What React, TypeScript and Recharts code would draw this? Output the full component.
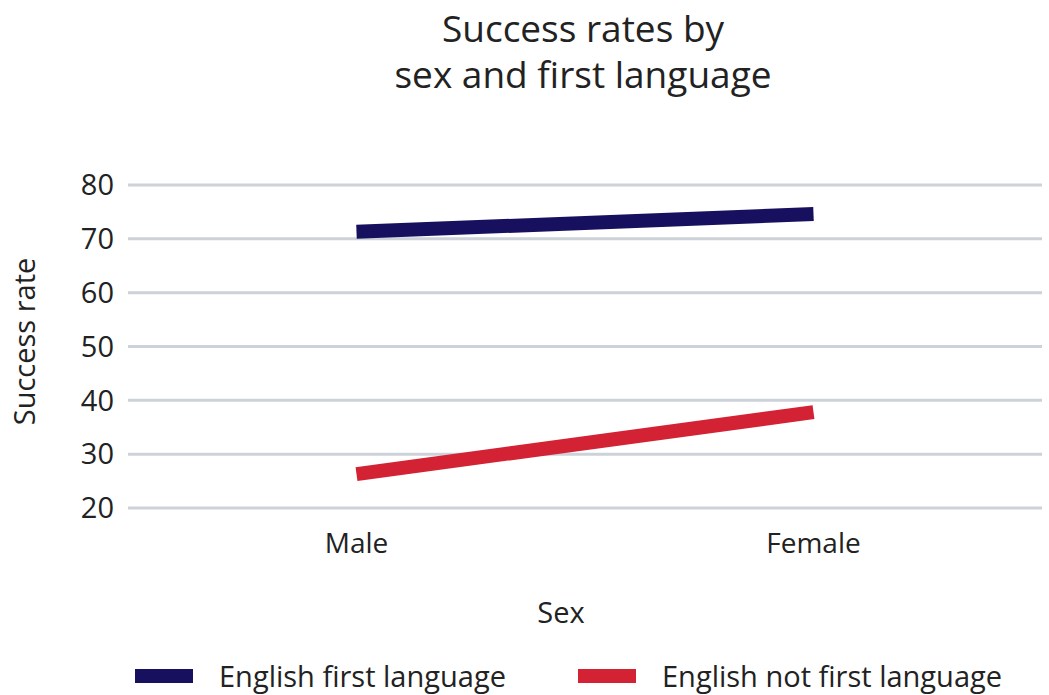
import React from "react";
import { LineChart, Line, XAxis, YAxis, CartesianGrid, Legend, Label } from "recharts";

const categories = ["Male", "Female"];
const englishFirst = [71.3, 74.6];
const englishNotFirst = [26.3, 37.8];
const yTicks = [20, 30, 40, 50, 60, 70, 80];

const titleLines = ["Success rates by", "sex and first language"];
const seriesNames = ["English first language", "English not first language"];
const seriesColors = ["#16105e", "#d32234"];

const data = categories.map((c, i) => ({
  sex: c,
  efl: englishFirst[i],
  enfl: englishNotFirst[i],
}));

const FONT = "'Open Sans', sans-serif";
const TEXT = "#222222";

const LegendContent = () => (
  <div style={{ position: "relative", width: 1049, height: 34, fontFamily: FONT, fontSize: 29, color: TEXT, lineHeight: "34px" }}>
    <div style={{ position: "absolute", left: 135, top: 0, display: "flex", alignItems: "center", height: 34 }}>
      <div style={{ width: 58, height: 14, background: seriesColors[0] }} />
      <span style={{ marginLeft: 26, whiteSpace: "nowrap" }}>{seriesNames[0]}</span>
    </div>
    <div style={{ position: "absolute", left: 578, top: 0, display: "flex", alignItems: "center", height: 34 }}>
      <div style={{ width: 58, height: 14, background: seriesColors[1] }} />
      <span style={{ marginLeft: 26, whiteSpace: "nowrap" }}>{seriesNames[1]}</span>
    </div>
  </div>
);

const titleStyle: React.CSSProperties = {
  position: "absolute",
  left: 0,
  width: 1166,
  textAlign: "center",
  fontFamily: FONT,
  fontSize: 37,
  lineHeight: "37px",
  color: TEXT,
  whiteSpace: "nowrap",
};

export default function App() {
  return (
    <div style={{ position: "absolute", left: 0, top: 0, width: 1049, height: 695, background: "#fff", overflow: "hidden" }}>
      <div style={{ ...titleStyle, top: 9 }}>{titleLines[0]}</div>
      <div style={{ ...titleStyle, top: 55 }}>{titleLines[1]}</div>
      <LineChart
        width={1049}
        height={695}
        data={data}
        margin={{ top: 185, right: 7, bottom: 67, left: 0 }}
      >
        <CartesianGrid vertical={false} stroke="#cdd1d8" strokeWidth={3} />
        <XAxis
          dataKey="sex"
          scale="band"
          axisLine={false}
          tickLine={false}
          tickSize={0}
          tickMargin={25}
          height={120}
          tick={{ fill: TEXT, fontSize: 28, fontFamily: FONT }}
        >
          <Label
            content={(props: any) => {
              const vb = props.viewBox;
              return (
                <text
                  x={561}
                  y={vb.y + 115}
                  textAnchor="middle"
                  fill={TEXT}
                  fontSize={29}
                  fontFamily={FONT}
                >
                  Sex
                </text>
              );
            }}
          />
        </XAxis>
        <YAxis
          domain={[20, 80]}
          ticks={yTicks}
          axisLine={false}
          tickLine={false}
          tickSize={0}
          tickMargin={14}
          width={128}
          tick={{ fill: TEXT, fontSize: 29, fontFamily: FONT }}
        >
          <Label
            content={(props: any) => {
              const vb = props.viewBox;
              const cy = vb.y + vb.height / 2 - 5;
              return (
                <text
                  x={35}
                  y={cy}
                  transform={`rotate(-90 35 ${cy})`}
                  textAnchor="middle"
                  fill={TEXT}
                  fontSize={29}
                  fontFamily={FONT}
                >
                  Success rate
                </text>
              );
            }}
          />
        </YAxis>
        <Legend
          layout="horizontal"
          verticalAlign="middle"
          align="center"
          wrapperStyle={{ top: 659, left: 0, width: 1049, height: 34 }}
          content={<LegendContent />}
        />
        <Line
          name={seriesNames[0]}
          dataKey="efl"
          stroke={seriesColors[0]}
          strokeWidth={14}
          strokeLinecap="butt"
          dot={false}
          activeDot={false}
          isAnimationActive={false}
        />
        <Line
          name={seriesNames[1]}
          dataKey="enfl"
          stroke={seriesColors[1]}
          strokeWidth={14}
          strokeLinecap="butt"
          dot={false}
          activeDot={false}
          isAnimationActive={false}
        />
      </LineChart>
    </div>
  );
}
